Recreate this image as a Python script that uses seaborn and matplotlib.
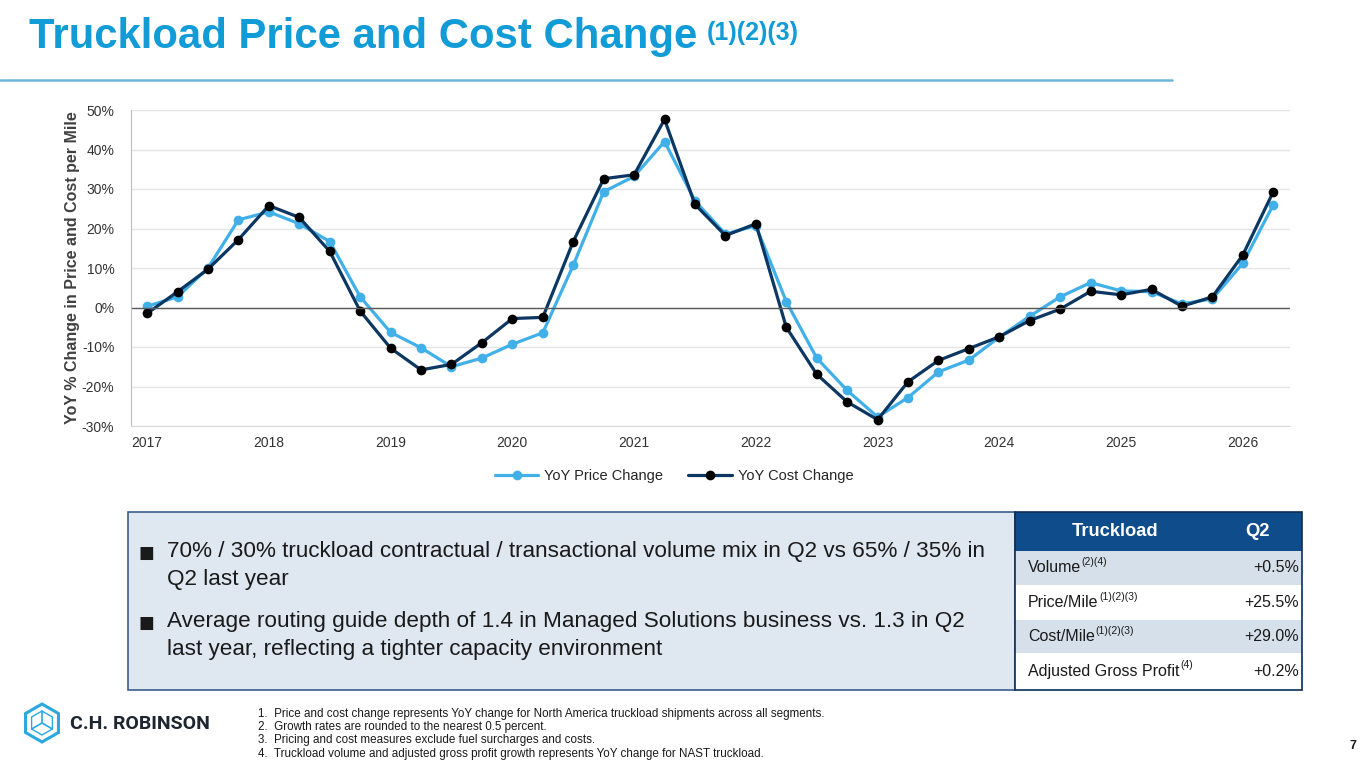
import numpy as np
import pandas as pd
import seaborn as sns
import matplotlib.pyplot as plt
from matplotlib.patches import Rectangle, RegularPolygon

# Quarterly YoY % change
price_change = [0.3, 2.7, 10.0, 22.2, 24.2, 21.2, 16.7, 2.7, -6.3, -10.2,
                -15.0, -12.8, -9.3, -6.4, 10.7, 29.3, 33.2, 42.0, 27.0, 18.6,
                20.7, 1.5, -12.8, -21.0, -27.7, -22.8, -16.3, -13.3, -7.5, -2.2,
                2.7, 6.3, 4.2, 4.0, 0.9, 2.2, 11.2, 26.0]
cost_change = [-1.5, 4.0, 9.7, 17.2, 25.8, 22.8, 14.2, -0.9, -10.3, -15.8,
               -14.4, -8.9, -2.8, -2.5, 16.7, 32.6, 33.6, 47.6, 26.1, 18.2,
               21.2, -5.0, -16.9, -23.9, -28.4, -18.8, -13.4, -10.4, -7.4, -3.3,
               -0.4, 4.1, 3.2, 4.6, 0.3, 2.7, 13.3, 29.3]
year_labels = ['2017', '2018', '2019', '2020', '2021', '2022', '2023', '2024', '2025', '2026']
y_ticks = [-30, -20, -10, 0, 10, 20, 30, 40, 50]

bullets = [
    ['70% / 30% truckload contractual / transactional volume mix in Q2 vs 65% / 35% in',
     'Q2 last year'],
    ['Average routing guide depth of 1.4 in Managed Solutions business vs. 1.3 in Q2',
     'last year, reflecting a tighter capacity environment'],
]
table_rows = ['Volume', 'Price/Mile', 'Cost/Mile', 'Adjusted Gross Profit']
table_notes = ['(2)(4)', '(1)(2)(3)', '(1)(2)(3)', '(4)']
table_values = ['+0.5%', '+25.5%', '+29.0%', '+0.2%']
footnotes = [
    '1.  Price and cost change represents YoY change for North America truckload shipments across all segments.',
    '2.  Growth rates are rounded to the nearest 0.5 percent.',
    '3.  Pricing and cost measures exclude fuel surcharges and costs.',
    '4.  Truckload volume and adjusted gross profit growth represents YoY change for NAST truckload.',
]

df = pd.DataFrame({'q': np.arange(len(price_change)),
                   'price': price_change, 'cost': cost_change})

sns.set_style('white')
plt.rcParams['font.family'] = ['Liberation Sans', 'DejaVu Sans']

W, H = 1365, 768
fig = plt.figure(figsize=(W / 100, H / 100), dpi=100)

# background axes in pixel coordinates for all the slide furniture
bg = fig.add_axes([0, 0, 1, 1])
bg.set_xlim(0, W)
bg.set_ylim(H, 0)
bg.axis('off')

TITLE_BLUE = '#119bd7'
NAVY = '#0f4c8c'

# title
t = bg.text(29, 37, 'Truckload Price and Cost Change', fontsize=30.2, fontweight='bold',
            color=TITLE_BLUE, va='center', ha='left')
fig.canvas.draw()
r = fig.canvas.get_renderer()


def after(txt, gap=0):
    bb = txt.get_window_extent(renderer=r)
    return bb.x1 + gap


bg.text(after(t, 9), 33, '(1)(2)(3)', fontsize=18, fontweight='bold',
        color=TITLE_BLUE, va='center', ha='left')
bg.plot([0, 1172], [80, 80], color='#6cb6d6', lw=1.8)

# chart
ax = fig.add_axes([131 / W, 1 - 426 / H, (1290 - 131) / W, (426 - 110) / H])
ax.set_facecolor('none')
sns.lineplot(data=df, x='q', y='price', ax=ax, color='#41b0e8', lw=2.3,
             marker='o', markersize=7, markeredgewidth=0, label='YoY Price Change')
sns.lineplot(data=df, x='q', y='cost', ax=ax, color='#0c3763', lw=2.3,
             marker='o', markersize=7, markeredgewidth=0, markerfacecolor='black',
             label='YoY Cost Change')
ax.set_xlim(-0.53, 37.55)
ax.set_ylim(-30, 50)
ax.set_yticks(y_ticks)
ax.set_yticklabels([f'{v}%' for v in y_ticks])
ax.set_xticks(df['q'])
ax.set_xticklabels([year_labels[i // 4] if i % 4 == 0 else '' for i in df['q']])
ax.yaxis.grid(True, color='#e5e5e5', lw=1)
ax.axhline(0, color='#595959', lw=1)
for s in ['top', 'right']:
    ax.spines[s].set_visible(False)
ax.spines['left'].set_color('#bfbfbf')
ax.spines['bottom'].set_color('#d9d9d9')
ax.tick_params(axis='x', length=5, color='#bfbfbf', labelsize=10, pad=2.5, labelcolor='#333333')
ax.tick_params(axis='y', length=4, color='#bfbfbf', labelsize=10, pad=8, labelcolor='#333333')
ax.set_xlabel('')
ax.set_ylabel('YoY % Change in Price and Cost per Mile', fontsize=11.5, fontweight='bold',
              color='#404040', labelpad=1)
ax.legend(loc='center', bbox_to_anchor=(674 / W, 1 - 476 / H), bbox_transform=fig.transFigure,
          ncol=2, frameon=False, fontsize=10.5, handlelength=3, columnspacing=1.7,
          handletextpad=0.4)

# bullet box
bg.add_patch(Rectangle((128, 512), 1015 - 128, 690 - 512, facecolor='#dfe7f1',
                       edgecolor='#3a5f8a', lw=1.2))
line_y = [[552, 579], [622, 650]]
for b, ys in zip(bullets, line_y):
    bg.text(146, ys[0] + 1, '■', fontsize=12, color='#1a1a1a', ha='center', va='center',
            family=['DejaVu Sans'])
    for txt, y in zip(b, ys):
        bg.text(167, y, txt, fontsize=16.2, color='#1a1a1a', ha='left', va='center')

# table
bg.add_patch(Rectangle((1015, 512), 1302 - 1015, 551 - 512, facecolor=NAVY, edgecolor='none'))
bg.text(1115, 531, 'Truckload', fontsize=13.2, fontweight='bold', color='white',
        ha='center', va='center')
bg.text(1270, 531, 'Q2', fontsize=13.2, fontweight='bold', color='white',
        ha='right', va='center')
row_edges = [551, 585, 620, 653, 690]
for i, (name, note, val) in enumerate(zip(table_rows, table_notes, table_values)):
    y0, y1 = row_edges[i], row_edges[i + 1]
    fc = '#d6e0ea' if i % 2 == 0 else 'white'
    bg.add_patch(Rectangle((1015, y0), 1302 - 1015, y1 - y0, facecolor=fc, edgecolor='none'))
    yc = (y0 + y1) / 2
    tt = bg.text(1028, yc, name, fontsize=11.5, color='#1a1a1a', ha='left', va='center')
    bg.text(after(tt, 0.5), yc - 6, note, fontsize=7.5, color='#1a1a1a', ha='left', va='center')
    bg.text(1299, yc, val, fontsize=11.5, color='#1a1a1a', ha='right', va='center')
bg.add_patch(Rectangle((1015, 512), 1302 - 1015, 690 - 512, facecolor='none',
                       edgecolor='#0c2f55', lw=1.2))

# footnotes
for i, fn in enumerate(footnotes):
    bg.text(258, 714 + i * 13.2, fn, fontsize=8.4, color='#1a1a1a', ha='left', va='center')

# logo
cx, cy = 42, 723
bg.add_patch(RegularPolygon((cx, cy), 6, radius=19, orientation=0, facecolor='none',
                            edgecolor='#2aa8df', lw=2.2))
ang = np.deg2rad([90, 210, 330])
for a in ang:
    bg.plot([cx, cx + 12 * np.cos(a)], [cy, cy - 12 * np.sin(a)], color='#2aa8df', lw=1.2)
bg.add_patch(RegularPolygon((cx, cy), 6, radius=12, orientation=0, facecolor='none',
                            edgecolor='#2aa8df', lw=1.0))
bg.text(70, 724, 'C.H. ROBINSON', fontsize=14, fontweight='bold', color='#1d2530',
        ha='left', va='center', family=['Roboto', 'DejaVu Sans'])

bg.text(1356, 746, '7', fontsize=9, fontweight='bold', color='#1a1a1a', ha='right', va='center')

fig.savefig('out.png', dpi=100)
